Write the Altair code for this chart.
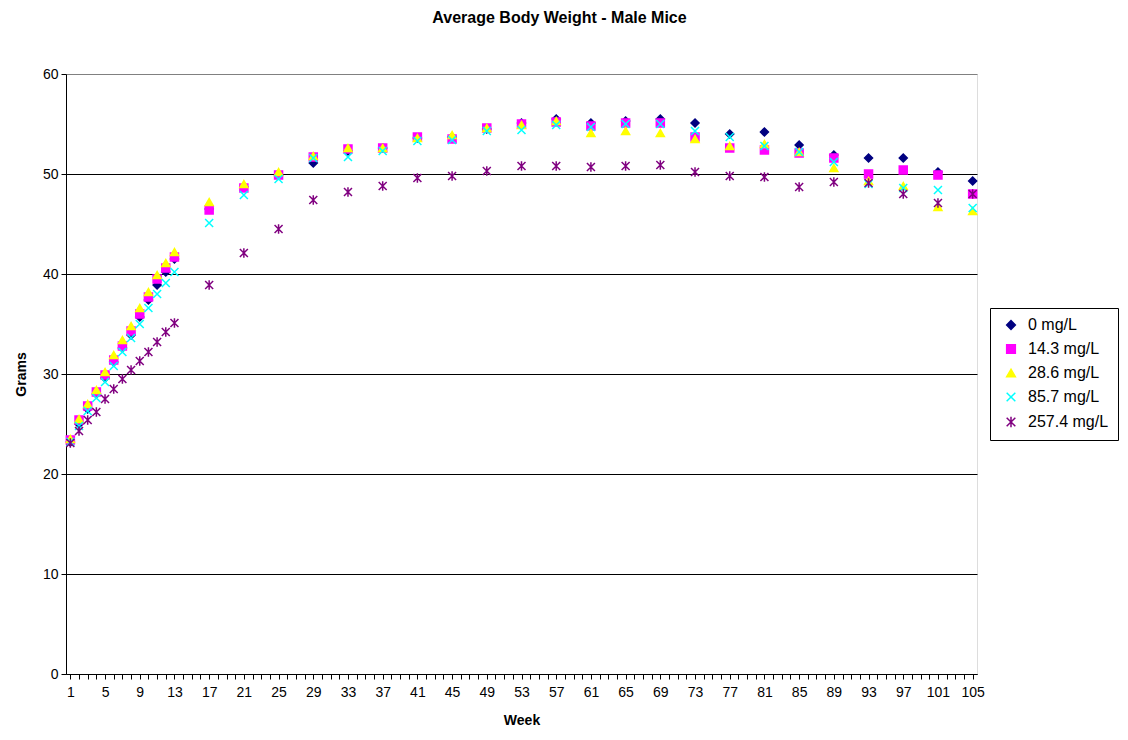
import altair as alt
import pandas as pd

weeks = [1, 2, 3, 4, 5, 6, 7, 8, 9, 10, 11, 12, 13,
         17, 21, 25, 29, 33, 37, 41, 45, 49, 53, 57, 61, 65, 69, 73, 77, 81, 85, 89, 93, 97, 101, 105]

series_names = ["0 mg/L", "14.3 mg/L", "28.6 mg/L", "85.7 mg/L", "257.4 mg/L"]

s0 = [23.2, 25.0, 26.5, 28.0, 29.6, 31.2, 32.6, 33.9, 35.7, 37.4, 38.9, 40.2, 41.5,
      46.5, 48.7, 49.9, 51.1, 52.3, 52.6, 53.6, 53.7, 54.5, 55.1, 55.5, 55.1, 55.3, 55.5, 55.1,
      54.0, 54.2, 52.9, 51.9, 51.6, 51.6, 50.2, 49.3]
s14 = [23.4, 25.4, 26.8, 28.2, 29.9, 31.4, 32.8, 34.3, 36.0, 37.7, 39.5, 40.6, 41.7,
       46.4, 48.6, 49.9, 51.7, 52.5, 52.6, 53.7, 53.5, 54.6, 55.0, 55.2, 54.8, 55.1, 55.1, 53.7,
       52.6, 52.4, 52.1, 51.6, 50.0, 50.4, 49.9, 48.0]
s28 = [23.5, 25.5, 27.0, 28.4, 30.2, 31.9, 33.4, 34.8, 36.6, 38.2, 39.9, 41.1, 42.2,
       47.2, 49.0, 50.2, 51.8, 52.6, 52.6, 53.6, 53.9, 54.6, 54.9, 55.3, 54.1, 54.3, 54.1, 53.5,
       52.8, 53.0, 52.2, 50.6, 49.3, 48.8, 46.7, 46.3]
s85 = [23.2, 24.8, 26.3, 27.6, 29.2, 30.8, 32.2, 33.6, 35.0, 36.6, 38.0, 39.1, 40.2,
       45.1, 47.9, 49.5, 51.6, 51.7, 52.3, 53.3, 53.4, 54.3, 54.4, 54.9, 54.7, 55.0, 55.0, 54.3,
       53.7, 52.8, 52.2, 51.2, 49.0, 48.6, 48.4, 46.6]
s257 = [23.1, 24.3, 25.4, 26.2, 27.5, 28.5, 29.5, 30.4, 31.3, 32.2, 33.2, 34.2, 35.1,
        38.9, 42.1, 44.5, 47.4, 48.2, 48.8, 49.6, 49.8, 50.3, 50.8, 50.8, 50.7, 50.8, 50.9, 50.2,
        49.8, 49.7, 48.7, 49.2, 49.1, 48.0, 47.1, 48.0]

colors = ["#000080", "#FF00FF", "#FFFF00", "#00FFFF", "#800080"]
shapes = ["diamond", "square", "triangle-up",
          "M-1,-1L1,1M-1,1L1,-1",
          "M-1,-1L1,1M-1,1L1,-1M0,-1.2L0,1.2"]

rows = []
for name, vals in zip(series_names, [s0, s14, s28, s85, s257]):
    for w, v in zip(weeks, vals):
        rows.append({"Week": w, "Grams": v, "Series": name})
df = pd.DataFrame(rows)

scale_c = alt.Scale(domain=series_names, range=colors)
scale_s = alt.Scale(domain=series_names, range=shapes)

legend = alt.Legend(
    title=None, orient="none", legendX=924, legendY=234,
    strokeColor="black", padding=9, labelFontSize=16, labelFont="Liberation Sans",
    labelColor="black", symbolSize=75, symbolStrokeWidth=1.5, rowPadding=8,
    labelOffset=9, symbolOffset=4,
)

chart = alt.Chart(df).mark_point(filled=False, size=64, strokeWidth=1.5, opacity=1).encode(
    x=alt.X("Week:Q",
            scale=alt.Scale(domain=[0.5, 105.5], nice=False, zero=False),
            axis=alt.Axis(values=list(range(1, 106)),
                          labelExpr="(datum.value - 1) % 4 == 0 ? datum.label : ''",
                          grid=False, tickColor="black", tickSize=5, domainColor="black",
                          labelFontSize=14, labelPadding=6, labelColor="black",
                          labelFont="Liberation Sans", title="Week",
                          titleFontSize=14, titleFont="Liberation Sans",
                          titleFontWeight="bold", titlePadding=14, titleColor="black",
                          labelFlush=False, labelOverlap=False)),
    y=alt.Y("Grams:Q",
            scale=alt.Scale(domain=[0, 60], nice=False),
            axis=alt.Axis(values=[0, 10, 20, 30, 40, 50, 60],
                          grid=True,
                          gridColor={"condition": {"test": "datum.value == 60", "value": "#808080"},
                                     "value": "black"},
                          gridWidth=1, tickColor="black", tickSize=5, domainColor="black",
                          labelFontSize=14, labelPadding=3, labelColor="black",
                          labelFont="Liberation Sans", title="Grams",
                          titleFontSize=14, titleFont="Liberation Sans",
                          titleFontWeight="bold", titlePadding=14, titleColor="black")),
    fill=alt.Fill("Series:N", scale=scale_c, legend=legend, sort=series_names),
    stroke=alt.Stroke("Series:N", scale=scale_c, legend=legend, sort=series_names),
    shape=alt.Shape("Series:N", scale=scale_s, legend=legend, sort=series_names),
    order=alt.Order("idx:Q"),
).transform_calculate(
    idx="indexof(" + str(series_names).replace("'", '"') + ", datum.Series)"
).properties(
    width=911, height=600,
    title=alt.TitleParams("Average Body Weight - Male Mice", fontSize=16,
                          font="Liberation Sans", fontWeight="bold", color="black",
                          anchor="middle", offset=41, dx=38),
    autosize=alt.AutoSizeParams(type="none"),
    padding={"left": 58, "top": 66, "right": 143, "bottom": 58},
).configure_view(
    stroke="#808080", strokeWidth=2
).configure(background="white")

chart.save("out.html", embed_options={"renderer": "svg", "actions": False})
